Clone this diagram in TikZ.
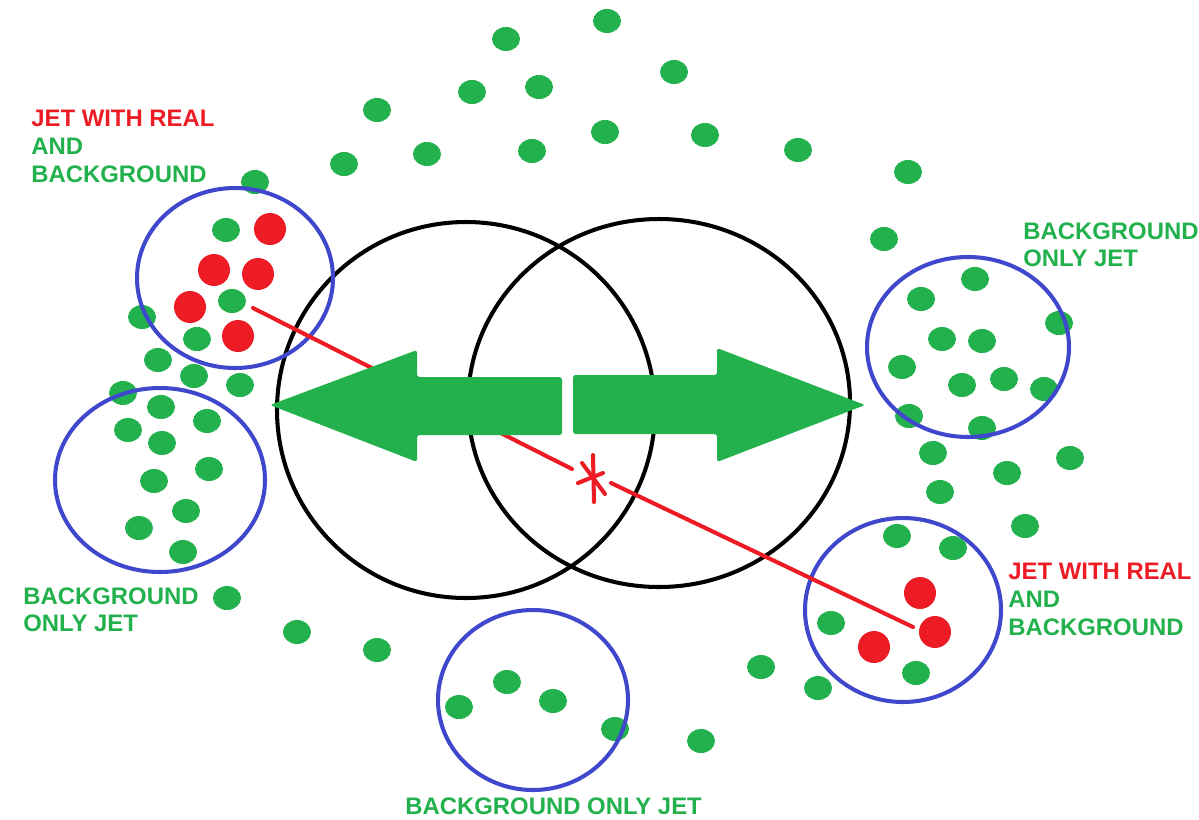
\documentclass[tikz,border=0pt]{standalone}
\usepackage{fontspec}
\setmainfont{Liberation Sans}
\definecolor{dotgreen}{HTML}{22B14C}
\definecolor{jetred}{HTML}{ED1C24}
\definecolor{jetblue}{HTML}{3F48CC}
\tikzset{
  particle/.style={fill=dotgreen},
  realpart/.style={fill=jetred},
  cone/.style={draw=black,line width=2.3pt},
  jetring/.style={draw=jetblue,line width=2.3pt},
  axis/.style={draw=jetred,line width=2.3pt,line cap=round},
  shift arrow/.style={fill=dotgreen,rounded corners=1.5pt},
  caption/.style={anchor=north west,inner sep=0pt,align=left,
    font=\fontsize{13.6}{15.9}\selectfont\bfseries},
}
\begin{document}
\begin{tikzpicture}[x=0.02cm,y=-0.02cm]
\useasboundingbox (0,0) rectangle (1199,819);

% soft background particles
\foreach \px/\py in {
  607/21, 506/39, 674/72, 539/87, 472/92, 377/110, 605/132, 705/135,
  427/154, 532/151, 344/164, 798/150, 908/172, 884/239, 255/182,
  226/230, 232/301, 197/339, 142/317,
  158/360, 194/376, 240/385, 123/393, 161/407, 207/421, 128/430,
  162/443, 209/469, 154/481, 186/511, 139/528, 183/552, 227/598,
  297/632, 377/650,
  507/682, 459/707, 553/701, 615/729, 761/667, 701/741, 818/688,
  975/279, 921/299, 1059/323, 942/339, 982/341, 902/367, 962/385,
  1004/379, 1044/389, 909/416, 982/428,
  933/453, 1070/458, 1007/473, 940/492, 1025/526, 897/536, 953/548,
  831/623, 916/673}
  \fill[particle] (\px,\py) ellipse [x radius=14, y radius=12];

% the two overlapping cones
\draw[cone] (466,410) ellipse [x radius=189, y radius=188];
\draw[cone] (659,403) ellipse [x radius=191, y radius=184];

% jets found by the clustering
\draw[jetring] (235,278) ellipse [x radius=98, y radius=90];
\draw[jetring] (160,480) ellipse [x radius=105, y radius=92];
\draw[jetring] (968,347) ellipse [x radius=101, y radius=90];
\draw[jetring] (903,610) ellipse [x radius=98, y radius=92];
\draw[jetring] (533,700) ellipse [x radius=95, y radius=90];

% hard particles
\foreach \px/\py in {270/229, 214/270, 258/274, 190/307, 238/336,
                     920/593, 935/632, 874/647}
  \fill[realpart] (\px,\py) circle [radius=16];

% dijet axis through the midpoint
\coordinate (jetA) at (253,308);
\coordinate (axisA) at (572,469);
\coordinate (axisB) at (611,483);
\coordinate (jetB) at (913,627);
\coordinate (mid) at (593,478);
\draw[axis] (jetA) -- (axisA);
\draw[axis] (axisB) -- (jetB);
\draw[axis] (593,455) -- (594,502);
\draw[axis] (582,463) -- (605,494);
\draw[axis] (578,483) -- (603,473);

% cone shift arrows
\fill[shift arrow] (270,405) -- (417,350) -- (417,377) -- (562,377)
  -- (562,435) -- (417,435) -- (417,462) -- cycle;
\fill[shift arrow] (573,375) -- (717,375) -- (717,348) -- (865,405)
  -- (717,462) -- (717,434) -- (573,434) -- cycle;

% captions
\node[caption] (capA) at (31,110)
  {\textcolor{jetred}{JET WITH REAL}\\\textcolor{dotgreen}{AND}\\\textcolor{dotgreen}{BACKGROUND}};
\node[caption,text=dotgreen] (capB) at (1023,222) {BACKGROUND\\ONLY JET};
\node[caption,text=dotgreen] (capC) at (23,587) {BACKGROUND\\ONLY JET};
\node[caption] (capD) at (1008,563)
  {\textcolor{jetred}{JET WITH REAL}\\\textcolor{dotgreen}{AND}\\\textcolor{dotgreen}{BACKGROUND}};
\node[caption,text=dotgreen] (capE) at (405,797) {BACKGROUND ONLY JET};
\end{tikzpicture}
\end{document}
